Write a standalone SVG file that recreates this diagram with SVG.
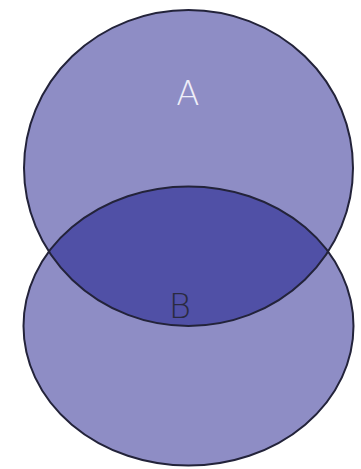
<svg xmlns="http://www.w3.org/2000/svg" width="361" height="469" viewBox="0 0 361 469">
<style>
.set{fill:#8e8dc5;stroke:none}
.lens{fill:#5050a6;stroke:none}
.edge{fill:none;stroke:#23233a;stroke-width:2}
.lbl{font-family:"DejaVu Sans","Liberation Sans",sans-serif;font-size:34px;font-weight:200;text-anchor:middle}
</style>
<defs>
<clipPath id="clipA"><ellipse cx="188.5" cy="168" rx="164.5" ry="158"/></clipPath>
</defs>
<rect width="361" height="469" fill="#ffffff"/>
<g id="fills">
<ellipse class="set" cx="188.5" cy="326" rx="165" ry="139.5"/>
<ellipse class="set" cx="188.5" cy="168" rx="164.5" ry="158"/>
<ellipse class="lens" cx="188.5" cy="326" rx="165" ry="139.5" clip-path="url(#clipA)"/>
</g>
<g id="A">
<ellipse class="edge" cx="188.5" cy="168" rx="164.5" ry="158"/>
<text class="lbl" x="188" y="105" fill="#eeeef8">A</text>
</g>
<g id="B">
<ellipse class="edge" cx="188.5" cy="326" rx="165" ry="139.5"/>
<text class="lbl" x="180" y="318" fill="#2a2a40">B</text>
</g>
</svg>
